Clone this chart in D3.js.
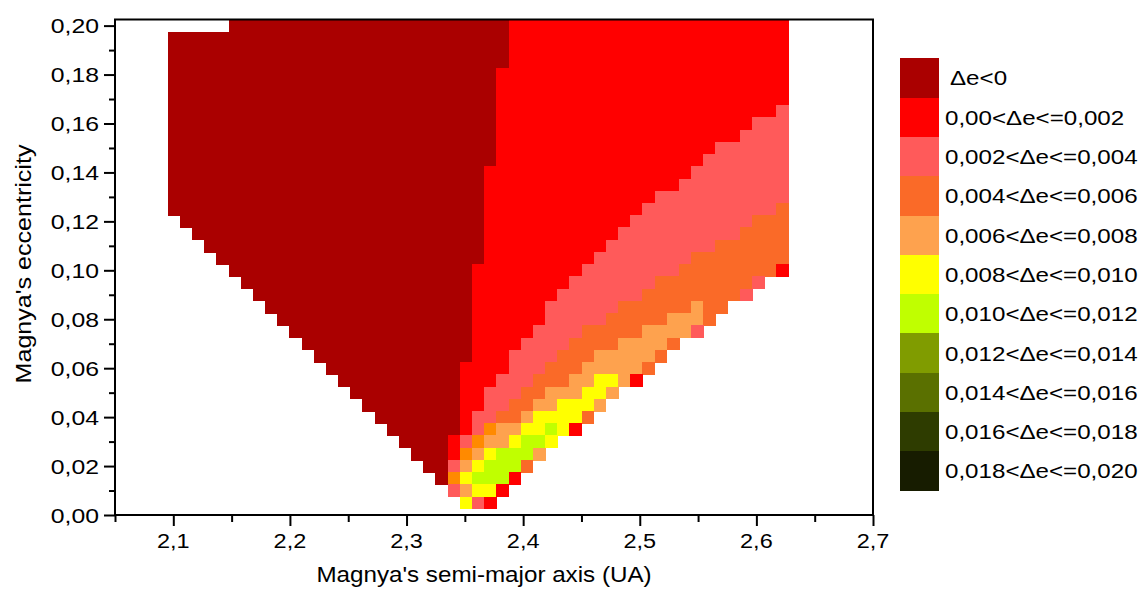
<!DOCTYPE html>
<html><head><meta charset="utf-8">
<script src="https://cdn.jsdelivr.net/npm/d3@7"></script>
<style>
body{margin:0;background:#fff}
svg{display:block}
text{font-family:"Liberation Sans",Arial,sans-serif;fill:#000}
</style>
</head><body>
<svg id="chart" width="1140" height="589"></svg>
<script>
// ---------------- DATA ----------------
// matrix columns (semi-major axis, UA) and rows (eccentricity), as gridded in the original
const semiMajorAxisCols = [2.10,2.11,2.12,2.13,2.14,2.15,2.16,2.17,2.18,2.19,2.20,2.21,2.22,2.23,2.24,2.25,2.26,2.27,2.28,2.29,2.30,2.31,2.32,2.33,2.34,2.35,2.36,2.37,2.38,2.39,2.40,2.41,2.42,2.43,2.44,2.45,2.46,2.47,2.48,2.49,2.50,2.51,2.52,2.53,2.54,2.55,2.56,2.57,2.58,2.59,2.60];
const eccentricityRows = [0.200,0.195,0.190,0.185,0.180,0.175,0.170,0.165,0.160,0.155,0.150,0.145,0.140,0.135,0.130,0.125,0.120,0.115,0.110,0.105,0.100,0.095,0.090,0.085,0.080,0.075,0.070,0.065,0.060,0.055,0.050,0.045,0.040,0.035,0.030,0.025,0.020,0.015,0.010,0.005];
// extent of the matrix on the semi-major axis (as placed in the original plot)
const matrixAxisExtent = [2.0952, 2.6275];
const matrixEccExtent = [0.0025, 0.2025];
// class of Δe per cell, one run-length string per row (top row first):
// "startColumn:class*count class*count ..."; class 'x' = unlisted orange shade
const cellRows = [
"5:0*23 1*23",
"0:0*28 1*23",
"0:0*28 1*23",
"0:0*28 1*23",
"0:0*27 1*24",
"0:0*27 1*24",
"0:0*27 1*24",
"0:0*27 1*23 2*1",
"0:0*27 1*21 2*3",
"0:0*27 1*20 2*4",
"0:0*27 1*18 2*6",
"0:0*27 1*17 2*7",
"0:0*26 1*17 2*8",
"0:0*26 1*16 2*9",
"0:0*26 1*14 2*11",
"0:0*26 1*13 2*11 3*1",
"1:0*25 1*12 2*10 3*3",
"2:0*24 1*11 2*10 3*4",
"3:0*23 1*10 2*9 3*6",
"4:0*22 1*9 2*8 3*8",
"5:0*20 1*9 2*8 3*8 1*1",
"6:0*19 1*8 2*7 3*8 2*1",
"7:0*18 1*7 2*7 3*8 2*1",
"8:0*17 1*6 2*6 3*6 4*1 3*2",
"9:0*16 1*6 2*5 3*5 4*3 3*1",
"10:0*15 1*5 2*4 3*5 4*4 2*1",
"11:0*14 1*4 2*4 3*4 4*4 3*1",
"12:0*13 1*3 2*4 3*3 4*5 3*1",
"13:0*11 1*4 2*3 3*3 4*5 3*1",
"14:0*10 1*3 2*3 3*3 4*2 5*2 4*1 1*1",
"15:0*9 1*2 2*3 3*2 4*3 5*2 4*1",
"16:0*8 1*2 2*2 3*2 4*2 5*3 4*1",
"17:0*7 1*1 2*2 3*2 4*1 5*4 3*1",
"18:0*6 1*1 2*1 x*1 4*2 5*2 6*1 5*1 1*1",
"19:0*4 1*1 2*1 x*1 4*2 5*1 6*2 5*1",
"20:0*3 1*1 x*1 4*1 5*1 6*3 4*1",
"21:0*2 2*1 4*1 5*1 6*3 3*1",
"22:0*1 x*1 5*1 6*3 1*1",
"23:2*1 4*1 5*2 1*1",
"24:5*1 2*1 1*1"
];
const classCodes  = ["0","1","2","3","4","5","6","7","8","9","a","x"];
const classColors = ["#aa0000","#ff0000","#ff5a5a","#fa6a28","#fea24e","#ffff00","#c0ff00","#809c00","#5a7000","#2e3c00","#171c00","#ff8a00"];
const legendLabels = ["\u0394e<0","0,00<\u0394e<=0,002","0,002<\u0394e<=0,004","0,004<\u0394e<=0,006","0,006<\u0394e<=0,008","0,008<\u0394e<=0,010","0,010<\u0394e<=0,012","0,012<\u0394e<=0,014","0,014<\u0394e<=0,016","0,016<\u0394e<=0,018","0,018<\u0394e<=0,020"];
const xTicks = [2.1,2.2,2.3,2.4,2.5,2.6,2.7];
const xTickLabels = ["2,1","2,2","2,3","2,4","2,5","2,6","2,7"];
const xMinorTicks = [2.05,2.15,2.25,2.35,2.45,2.55,2.65];
const yTicks = [0,0.02,0.04,0.06,0.08,0.10,0.12,0.14,0.16,0.18,0.20];
const yTickLabels = ["0,00","0,02","0,04","0,06","0,08","0,10","0,12","0,14","0,16","0,18","0,20"];
const yMinorTicks = [0.01,0.03,0.05,0.07,0.09,0.11,0.13,0.15,0.17,0.19];
const xTitle = "Magnya's semi-major axis (UA)";
const yTitle = "Magnya's eccentricity";

// ---------------- LAYOUT ----------------
const P = {left:115, right:873, top:19.5, bottom:515};
const svg = d3.select("#chart");
const x = d3.scaleLinear().domain([2.05,2.7]).range([P.left,P.right]);
const y = d3.scaleLinear().domain([0,0.2025]).range([P.bottom,P.top]);
const colBand = d3.scaleBand().domain(semiMajorAxisCols).range([x(matrixAxisExtent[0]), x(matrixAxisExtent[1])]);
const rowBand = d3.scaleBand().domain(eccentricityRows).range([y(matrixEccExtent[1]), y(matrixEccExtent[0])]);
const color = d3.scaleOrdinal().domain(classCodes).range(classColors);

// parse cells
const cells = [];
cellRows.forEach((s, ri) => {
  const [start, runs] = s.split(":");
  let c = +start;
  runs.trim().split(/\s+/).forEach(r => {
    const [code, n] = r.split("*");
    for (let i = 0; i < +n; i++) { cells.push({a: semiMajorAxisCols[c], e: eccentricityRows[ri], k: code}); c++; }
  });
});

svg.append("g").attr("shape-rendering","crispEdges")
  .selectAll("rect").data(cells).join("rect")
  .attr("x", d => colBand(d.a)).attr("y", d => rowBand(d.e))
  .attr("width", colBand.bandwidth()+0.6).attr("height", rowBand.bandwidth()+0.6)
  .attr("fill", d => color(d.k));

// frame
svg.append("rect").attr("x",P.left).attr("y",P.top).attr("width",P.right-P.left).attr("height",P.bottom-P.top)
  .attr("fill","none").attr("stroke","#000").attr("stroke-width",2);

function styleAxis(g){ g.selectAll("path,line").attr("stroke","#000").attr("stroke-width",2); g.select(".domain").remove(); }
svg.append("g").attr("transform",`translate(0,${P.bottom})`)
  .call(d3.axisBottom(x).tickValues(xTicks).tickSize(11).tickFormat("")).call(styleAxis);
svg.append("g").attr("transform",`translate(0,${P.bottom})`)
  .call(d3.axisBottom(x).tickValues(xMinorTicks).tickSize(7).tickFormat("")).call(styleAxis);
svg.append("g").attr("transform",`translate(${P.left},0)`)
  .call(d3.axisLeft(y).tickValues(yTicks).tickSize(11).tickFormat("")).call(styleAxis);
svg.append("g").attr("transform",`translate(${P.left},0)`)
  .call(d3.axisLeft(y).tickValues(yMinorTicks).tickSize(6).tickFormat("")).call(styleAxis);

function label(px, py, str, size, anchor, sx, rot){
  svg.append("text").attr("transform",`translate(${px},${py})${rot?` rotate(${rot})`:""} scale(${sx},1)`)
    .attr("font-size",size).attr("text-anchor",anchor).text(str);
}
xTicks.forEach((v,i)=>label(x(v), 548, xTickLabels[i], 21, "middle", 1.12));
yTicks.forEach((v,i)=>label(99, y(v)+7.5, yTickLabels[i], 21, "end", 1.18));
label(484, 582, xTitle, 22, "middle", 1.1);
label(31, 264, yTitle, 22, "middle", 1.14, -90);

// legend
const legY0 = 58.3, legH = 39.3;
legendLabels.forEach((t,i)=>{
  svg.append("rect").attr("x",900).attr("y",legY0+i*legH).attr("width",39).attr("height",legH+0.5)
    .attr("fill",classColors[i]).attr("shape-rendering","crispEdges");
  label(i===0?950:945, legY0+i*legH+legH/2+7.5, t, 21, "start", 1.15);
});
</script>
</body></html>
